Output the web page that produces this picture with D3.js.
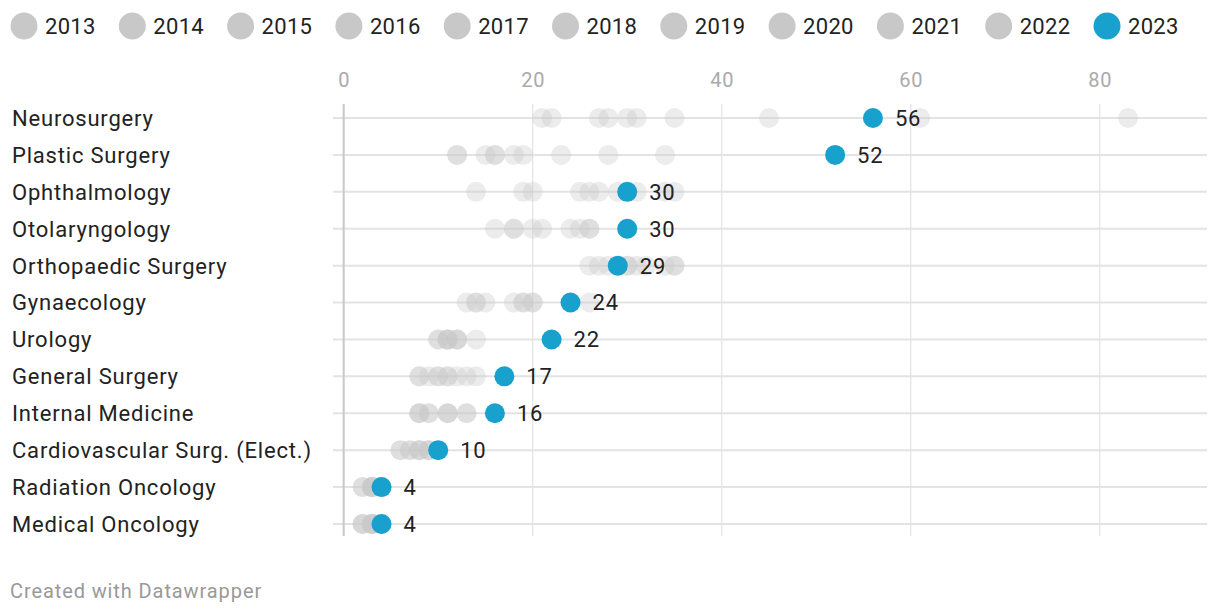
<!DOCTYPE html>
<html>
<head>
<meta charset="utf-8">
<script src="https://cdn.jsdelivr.net/npm/d3@7"></script>
<style>
  html, body { margin: 0; padding: 0; background: #fff; }
  svg { display: block; font-family: Roboto, "Noto Sans", sans-serif; }
</style>
</head>
<body>
<svg id="chart" width="1220" height="614"></svg>
<script>
const categories = ["Neurosurgery", "Plastic Surgery", "Ophthalmology", "Otolaryngology",
  "Orthopaedic Surgery", "Gynaecology", "Urology", "General Surgery", "Internal Medicine",
  "Cardiovascular Surg. (Elect.)", "Radiation Oncology", "Medical Oncology"];
const years = ["2013","2014","2015","2016","2017","2018","2019","2020","2021","2022","2023"];
const v2013 = [21,12,14,16,26,13,10,8,8,6,2,2];
const v2014 = [22,12,19,18,27,14,10,8,8,6,2,2];
const v2015 = [27,15,20,18,28,14,11,9,8,7,3,2];
const v2016 = [28,16,25,20,30,15,11,10,9,7,3,3];
const v2017 = [30,16,26,21,30,18,11,10,9,8,3,3];
const v2018 = [31,18,27,24,31,19,11,11,11,8,3,3];
const v2019 = [35,19,29,25,32,19,12,11,11,8,3,3];
const v2020 = [45,23,31,26,34,20,12,12,11,9,4,3];
const v2021 = [61,28,34,26,35,20,12,13,13,9,4,4];
const v2022 = [83,34,35,30,35,26,14,14,13,9,4,4];
const v2023 = [56,52,30,30,29,24,22,17,16,10,4,4];
const xTicks = [0, 20, 40, 60, 80];

const seriesList = [v2013,v2014,v2015,v2016,v2017,v2018,v2019,v2020,v2021,v2022,v2023];
const BLUE = "#18a1cd", GREY = "#c8c8c8";

const svg = d3.select("#chart");

// Legend
const leg = svg.append("g");
years.forEach((yr, i) => {
  const cx = 24 + i * 108.3;
  leg.append("circle").attr("cx", cx).attr("cy", 26).attr("r", 13.5)
    .attr("fill", yr === "2023" ? BLUE : GREY);
  leg.append("text").attr("x", cx + 21).attr("y", 26).attr("dy", "0.36em")
    .attr("font-size", 22).attr("letter-spacing", 0.3).attr("fill", "#222").text(yr);
});

const x = d3.scaleLinear().domain([0, 91.35]).range([343.7, 1207]);
const y = d3.scalePoint().domain(categories).range([118, 524]);

// Vertical grid lines
svg.append("g").selectAll("line").data(xTicks.filter(d => d !== 0)).join("line")
  .attr("x1", d => x(d)).attr("x2", d => x(d))
  .attr("y1", 104).attr("y2", 536)
  .attr("stroke", "#e3e3e3").attr("stroke-width", 1.2);

// Axis labels
const axis = d3.axisTop(x).tickValues(xTicks).tickSize(0).tickPadding(0);
const ax = svg.append("g").attr("transform", "translate(0,80)").call(axis);
ax.select(".domain").remove();
ax.selectAll("text").attr("font-size", 20).attr("letter-spacing", 0.8).attr("fill", "#aaa")
  .attr("font-family", "Roboto, sans-serif").attr("dy", "0.36em");

// Row lines
svg.append("g").selectAll("line").data(categories).join("line")
  .attr("x1", 333).attr("x2", 1207)
  .attr("y1", d => y(d)).attr("y2", d => y(d))
  .attr("stroke", "#e3e3e3").attr("stroke-width", 2);

// Zero baseline
svg.append("line").attr("x1", x(0)).attr("x2", x(0)).attr("y1", 104).attr("y2", 536)
  .attr("stroke", "#c8c8c8").attr("stroke-width", 2);

// Row labels
svg.append("g").selectAll("text").data(categories).join("text")
  .attr("x", 12).attr("y", d => y(d)).attr("dy", "0.36em")
  .attr("font-size", 22).attr("letter-spacing", 0.8).attr("fill", "#222").text(d => d);

// Grey historic dots
const hist = svg.append("g");
seriesList.slice(0, 10).forEach(arr => {
  hist.selectAll(null).data(arr.map((v, i) => ({v, c: categories[i]}))).join("circle")
    .attr("cx", d => x(d.v)).attr("cy", d => y(d.c)).attr("r", 10)
    .attr("fill", GREY).attr("fill-opacity", 0.35);
});

// 2023 dots
const cur = v2023.map((v, i) => ({v, c: categories[i]}));
svg.append("g").selectAll("circle").data(cur).join("circle")
  .attr("cx", d => x(d.v)).attr("cy", d => y(d.c)).attr("r", 10).attr("fill", BLUE);

// Value labels
svg.append("g").selectAll("text").data(cur).join("text")
  .attr("x", d => x(d.v) + 22).attr("y", d => y(d.c)).attr("dy", "0.36em")
  .attr("font-size", 22).attr("letter-spacing", 0.8).attr("fill", "#222").text(d => d.v);

// Footer
svg.append("text").attr("x", 10).attr("y", 591).attr("dy", "0.36em")
  .attr("font-size", 20).attr("letter-spacing", 0.9).attr("fill", "#999").text("Created with Datawrapper");
</script>
</body>
</html>
